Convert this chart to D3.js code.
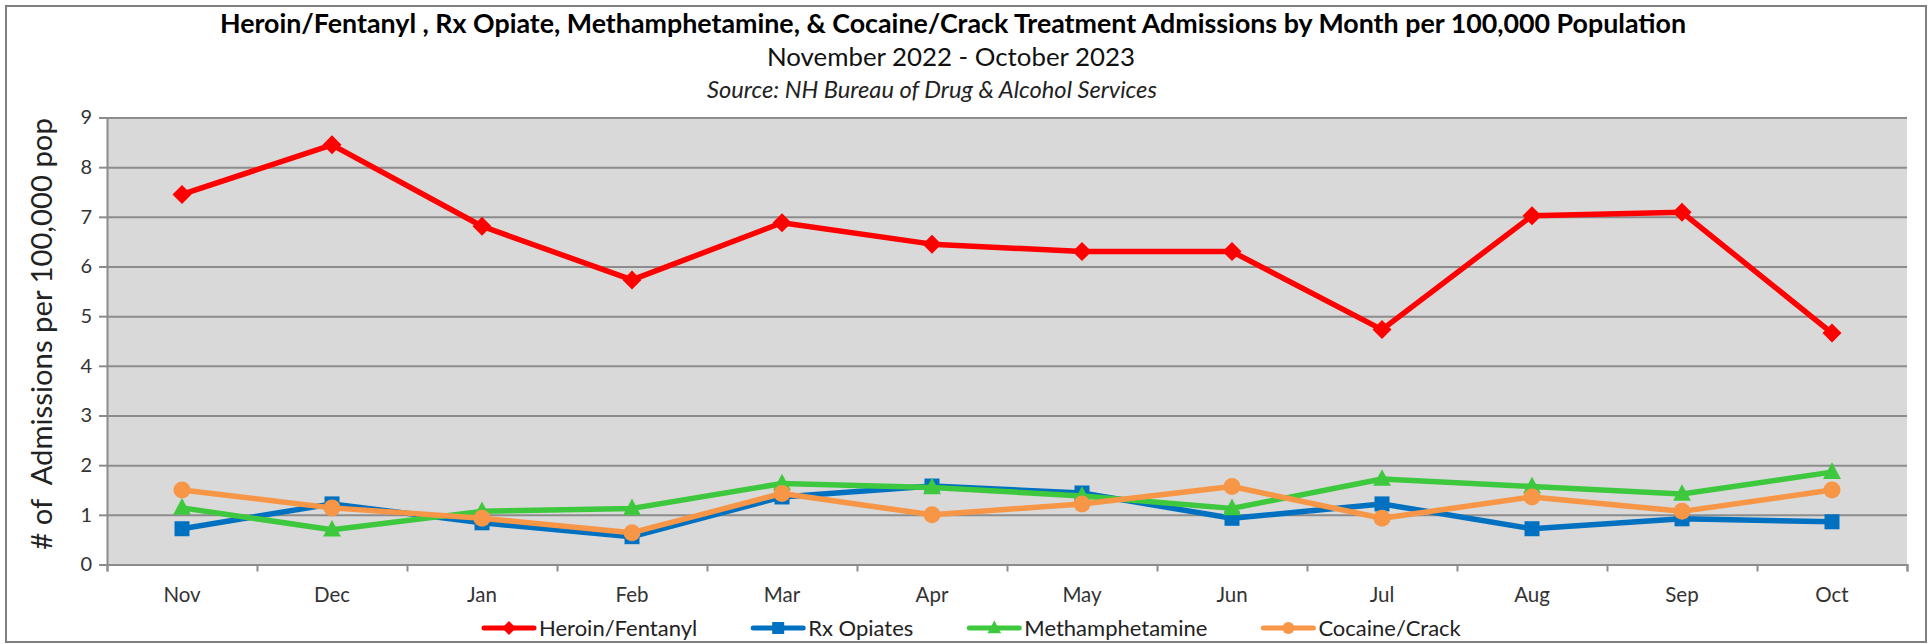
<!DOCTYPE html>
<html>
<head>
<meta charset="utf-8">
<script src="https://cdn.jsdelivr.net/npm/d3@7"></script>
<style>
  body { margin: 0; background: #fff; }
  svg { display: block; }
  text { font-family: Lato, "Open Sans", sans-serif; }
</style>
</head>
<body>
<svg id="chart" width="1931" height="644"></svg>
<script>
// Monthly treatment admissions per 100,000 population, Nov 2022 - Oct 2023
const months = ["Nov", "Dec", "Jan", "Feb", "Mar", "Apr", "May", "Jun", "Jul", "Aug", "Sep", "Oct"];
const heroinFentanyl = [7.45, 8.45, 6.81, 5.73, 6.88, 6.45, 6.30, 6.30, 4.73, 7.02, 7.09, 4.66];
const rxOpiates      = [0.72, 1.22, 0.84, 0.56, 1.36, 1.58, 1.44, 0.93, 1.22, 0.72, 0.92, 0.86];
const meth           = [1.14, 0.70, 1.07, 1.13, 1.63, 1.55, 1.38, 1.13, 1.72, 1.57, 1.42, 1.86];
const cocaineCrack   = [1.50, 1.14, 0.93, 0.64, 1.43, 1.00, 1.22, 1.57, 0.93, 1.36, 1.07, 1.50];
const seriesNames    = ["Heroin/Fentanyl", "Rx Opiates", "Methamphetamine", "Cocaine/Crack"];
const yTicks         = [0, 1, 2, 3, 4, 5, 6, 7, 8, 9];

const titleText    = "Heroin/Fentanyl , Rx Opiate, Methamphetamine, & Cocaine/Crack Treatment Admissions by Month per 100,000 Population";
const subtitleText = "November 2022 - October 2023";
const sourceText   = "Source: NH Bureau of Drug & Alcohol Services";
const yTitleText   = "# of\u00a0\u00a0Admissions per 100,000 pop";

// Marker shapes (size argument is the half-width in px)
const shapes = {
  diamond: { draw(ctx, r) { ctx.moveTo(0, -r); ctx.lineTo(r, 0); ctx.lineTo(0, r); ctx.lineTo(-r, 0); ctx.closePath(); } },
  square:  { draw(ctx, r) { ctx.rect(-r, -r, 2 * r, 2 * r); } },
  triangle:{ draw(ctx, r) { ctx.moveTo(0, -r * 1.15); ctx.lineTo(r * 1.05, r * 0.8); ctx.lineTo(-r * 1.05, r * 0.8); ctx.closePath(); } },
  circle:  { draw(ctx, r) { ctx.moveTo(r, 0); ctx.arc(0, 0, r, 0, 2 * Math.PI); } }
};

const series = [
  { name: seriesNames[0], values: heroinFentanyl, color: "#ff0000", shape: shapes.diamond,  r: 9.5, lr: 7 },
  { name: seriesNames[1], values: rxOpiates,      color: "#0070c0", shape: shapes.square,   r: 7.5, lr: 6 },
  { name: seriesNames[2], values: meth,           color: "#3ec83e", shape: shapes.triangle, r: 8.5, lr: 6.5 },
  { name: seriesNames[3], values: cocaineCrack,   color: "#f79646", shape: shapes.circle,   r: 8.5, lr: 6 }
];

const svg = d3.select("#chart");
const plot = { left: 107, right: 1907, top: 117.5, bottom: 564.5 };
const plotW = plot.right - plot.left;

// Outer frame
svg.append("rect")
  .attr("x", 6).attr("y", 6).attr("width", 1920).attr("height", 636)
  .attr("fill", "#fff").attr("stroke", "#7f7f7f").attr("stroke-width", 2);

// Scales
const x = d3.scaleBand().domain(months).range([plot.left, plot.right]).padding(0);
const y = d3.scaleLinear().domain([0, 9]).range([plot.bottom, plot.top]);
const xEdge = d3.scaleLinear().domain([0, months.length]).range([plot.left, plot.right]);
const cx = m => x(m) + x.bandwidth() / 2;

// Plot background
svg.append("rect")
  .attr("x", plot.left).attr("y", plot.top)
  .attr("width", plotW).attr("height", plot.bottom - plot.top)
  .attr("fill", "#d9d9d9");

// Horizontal gridlines
svg.append("g")
  .attr("transform", `translate(${plot.left},0)`)
  .call(d3.axisLeft(y).tickValues(yTicks).tickSize(-plotW).tickFormat(""))
  .call(g => g.select(".domain").remove())
  .call(g => g.selectAll(".tick line").attr("stroke", "#8c8c8c").attr("stroke-width", 2));

// Y axis with tick labels
svg.append("g")
  .attr("transform", `translate(${plot.left},0)`)
  .call(d3.axisLeft(y).tickValues(yTicks).tickSize(8).tickPadding(7).tickFormat(d3.format("d")))
  .call(g => g.select(".domain").attr("stroke", "#8c8c8c").attr("stroke-width", 2))
  .call(g => g.selectAll(".tick line").attr("stroke", "#8c8c8c").attr("stroke-width", 2))
  .call(g => g.selectAll(".tick text").attr("fill", "#333").attr("font-size", 20)
    .style("font-family", "Lato, sans-serif"));

// X axis: tick marks at category boundaries
svg.append("g")
  .attr("transform", `translate(0,${plot.bottom})`)
  .call(d3.axisBottom(xEdge).tickValues(d3.range(months.length + 1)).tickSize(7).tickFormat(""))
  .call(g => g.select(".domain").attr("stroke", "#8c8c8c").attr("stroke-width", 2))
  .call(g => g.selectAll(".tick line").attr("stroke", "#8c8c8c").attr("stroke-width", 2));

// X axis: month labels centred in each category
svg.append("g")
  .attr("transform", `translate(0,${plot.bottom})`)
  .call(d3.axisBottom(x).tickSize(0).tickPadding(23))
  .call(g => g.select(".domain").remove())
  .call(g => g.selectAll(".tick text").attr("fill", "#333").attr("font-size", 20.5)
    .style("font-family", "Lato, sans-serif"));

// Series lines and markers
const line = d3.line().x((d, i) => cx(months[i])).y(d => y(d));
series.forEach(s => {
  const g = svg.append("g");
  g.append("path")
    .attr("d", line(s.values))
    .attr("fill", "none").attr("stroke", s.color)
    .attr("stroke-width", 5.5).attr("stroke-linejoin", "round");
  g.selectAll("path.marker")
    .data(s.values)
    .join("path")
    .attr("class", "marker")
    .attr("transform", (d, i) => `translate(${cx(months[i])},${y(d)})`)
    .attr("d", d3.symbol(s.shape, s.r))
    .attr("fill", s.color);
});

// Shrink or grow a text element's font so it spans the given width
function fitWidth(sel, width) {
  const fs = parseFloat(sel.attr("font-size"));
  const len = sel.node().getComputedTextLength();
  sel.attr("font-size", fs * width / len);
}

// Titles
svg.append("text")
  .attr("x", 953).attr("y", 33).attr("text-anchor", "middle")
  .attr("font-size", 25.5).attr("font-weight", "bold").attr("fill", "#000")
  .text(titleText)
  .call(s => fitWidth(s, 1467));

svg.append("text")
  .attr("x", 951).attr("y", 66).attr("text-anchor", "middle")
  .attr("font-size", 22).attr("fill", "#111")
  .text(subtitleText)
  .call(s => fitWidth(s, 368));

svg.append("text")
  .attr("x", 932).attr("y", 98).attr("text-anchor", "middle")
  .attr("font-size", 18).attr("font-style", "italic").attr("fill", "#222")
  .text(sourceText)
  .call(s => fitWidth(s, 450));

// Y axis title
svg.append("text")
  .attr("transform", "translate(42,334) rotate(-90)")
  .attr("text-anchor", "middle").attr("dy", "0.35em")
  .attr("font-size", 24).attr("fill", "#222")
  .text(yTitleText)
  .call(s => fitWidth(s, 432));

// Legend
const legend = svg.append("g").attr("transform", "translate(0,628)");
let lx = 484;
series.forEach(s => {
  const item = legend.append("g").attr("transform", `translate(${lx},0)`);
  item.append("line")
    .attr("x1", 0).attr("x2", 50).attr("y1", 0).attr("y2", 0)
    .attr("stroke", s.color).attr("stroke-width", 5).attr("stroke-linecap", "round");
  item.append("path")
    .attr("transform", "translate(25,0)")
    .attr("d", d3.symbol(s.shape, s.lr))
    .attr("fill", s.color);
  const t = item.append("text")
    .attr("x", 55).attr("dy", "0.35em")
    .attr("font-size", 22).attr("fill", "#222")
    .text(s.name);
  lx += 55 + t.node().getComputedTextLength() + 56;
});
</script>
</body>
</html>
